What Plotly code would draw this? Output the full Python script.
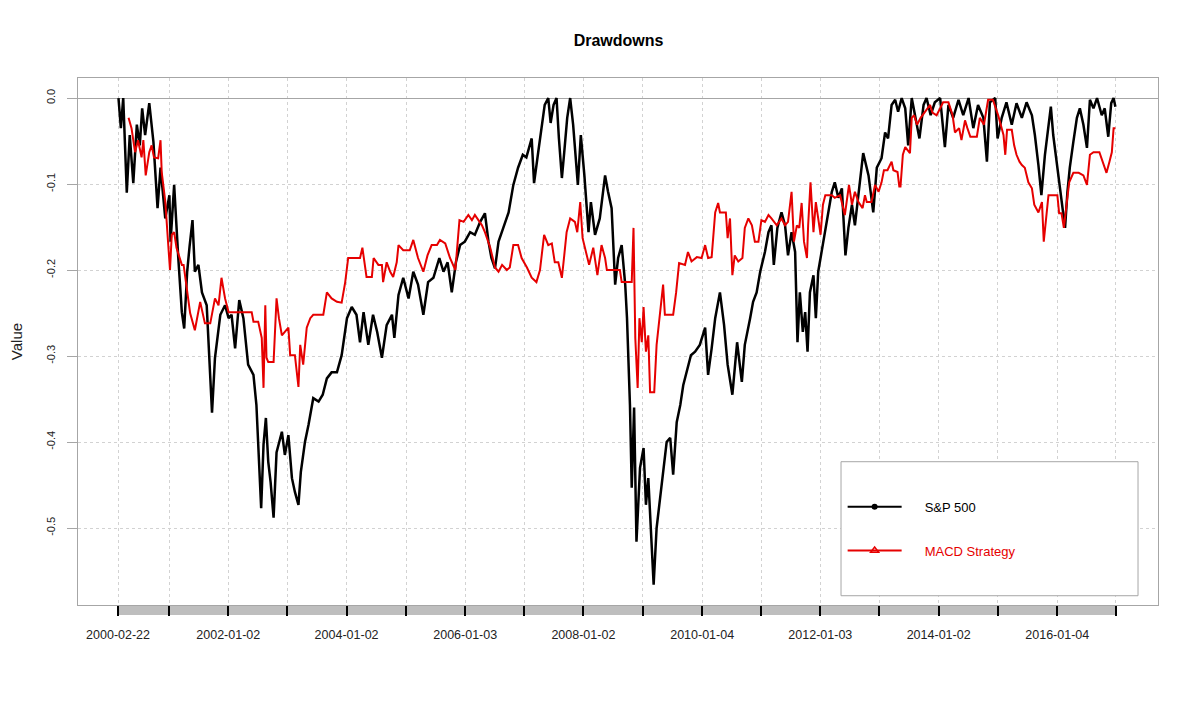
import pandas as pd
import plotly.graph_objects as go

# drawdown readings, time as decimal year
sp_years = [
    2000.15, 2000.19, 2000.23, 2000.29, 2000.34, 2000.40, 2000.46, 2000.51, 2000.55, 2000.60,
    2000.67, 2000.74, 2000.81, 2000.86, 2000.94, 2001.01, 2001.03, 2001.09, 2001.16, 2001.22,
    2001.26, 2001.31, 2001.35, 2001.40, 2001.44, 2001.50, 2001.56, 2001.64, 2001.73, 2001.78,
    2001.87, 2001.95, 2002.01, 2002.06, 2002.12, 2002.19, 2002.26, 2002.34, 2002.43, 2002.48,
    2002.56, 2002.60, 2002.64, 2002.68, 2002.72, 2002.77, 2002.82, 2002.91, 2002.96, 2003.02,
    2003.08, 2003.13, 2003.19, 2003.23, 2003.30, 2003.36, 2003.44, 2003.53, 2003.60, 2003.67,
    2003.75, 2003.84, 2003.92, 2004.01, 2004.09, 2004.17, 2004.23, 2004.29, 2004.37, 2004.45,
    2004.52, 2004.60, 2004.68, 2004.77, 2004.81, 2004.88, 2004.96, 2005.05, 2005.13, 2005.21,
    2005.30, 2005.38, 2005.47, 2005.57, 2005.64, 2005.71, 2005.78, 2005.85, 2005.92, 2006.00,
    2006.09, 2006.17, 2006.26, 2006.34, 2006.40, 2006.45, 2006.51, 2006.57, 2006.65, 2006.74,
    2006.82, 2006.90, 2006.98, 2007.04, 2007.13, 2007.17, 2007.24, 2007.30, 2007.35, 2007.41,
    2007.45, 2007.50, 2007.55, 2007.59, 2007.64, 2007.68, 2007.73, 2007.78, 2007.83, 2007.91,
    2007.96, 2008.02, 2008.09, 2008.13, 2008.20, 2008.28, 2008.37, 2008.42, 2008.48, 2008.54,
    2008.59, 2008.65, 2008.71, 2008.74, 2008.79, 2008.82, 2008.86, 2008.90, 2008.96, 2009.02,
    2009.06, 2009.10, 2009.16, 2009.19, 2009.24, 2009.30, 2009.35, 2009.41, 2009.47, 2009.52,
    2009.58, 2009.64, 2009.69, 2009.76, 2009.82, 2009.89, 2009.97, 2010.06, 2010.11, 2010.17,
    2010.23, 2010.31, 2010.38, 2010.44, 2010.48, 2010.52, 2010.57, 2010.60, 2010.68, 2010.73,
    2010.82, 2010.87, 2010.93, 2010.99, 2011.07, 2011.13, 2011.18, 2011.22, 2011.28, 2011.35,
    2011.41, 2011.46, 2011.52, 2011.58, 2011.62, 2011.66, 2011.71, 2011.75, 2011.79, 2011.83,
    2011.89, 2011.93, 2011.97, 2012.01, 2012.07, 2012.14, 2012.20, 2012.25, 2012.31, 2012.37,
    2012.43, 2012.48, 2012.54, 2012.59, 2012.65, 2012.73, 2012.82, 2012.90, 2012.96, 2013.04,
    2013.10, 2013.15, 2013.21, 2013.27, 2013.32, 2013.38, 2013.44, 2013.49, 2013.55, 2013.61,
    2013.68, 2013.75, 2013.80, 2013.87, 2013.94, 2014.03, 2014.11, 2014.17, 2014.25, 2014.34,
    2014.42, 2014.51, 2014.59, 2014.67, 2014.76, 2014.82, 2014.87, 2014.96, 2015.00, 2015.07,
    2015.15, 2015.24, 2015.32, 2015.41, 2015.49, 2015.58, 2015.63, 2015.69, 2015.74, 2015.80,
    2015.86, 2015.90, 2015.94, 2016.00, 2016.05, 2016.10, 2016.14, 2016.18, 2016.22, 2016.28,
    2016.34, 2016.39, 2016.45, 2016.51, 2016.56, 2016.62, 2016.68, 2016.76, 2016.81, 2016.87,
    2016.92, 2016.96, 2016.99,
]
sp_dd = [
    0.0, -0.035, 0.0, -0.11, -0.043, -0.099, -0.031, -0.055, -0.012, -0.043,
    -0.006, -0.051, -0.128, -0.081, -0.14, -0.113, -0.167, -0.101, -0.186, -0.249,
    -0.268, -0.202, -0.173, -0.142, -0.202, -0.194, -0.226, -0.241, -0.366, -0.302,
    -0.252, -0.241, -0.256, -0.252, -0.291, -0.235, -0.256, -0.31, -0.322, -0.357,
    -0.477, -0.403, -0.372, -0.423, -0.447, -0.488, -0.412, -0.388, -0.415, -0.392,
    -0.442, -0.458, -0.473, -0.435, -0.40, -0.38, -0.349, -0.353, -0.345, -0.326,
    -0.319, -0.319, -0.299, -0.256, -0.243, -0.252, -0.284, -0.249, -0.287, -0.252,
    -0.272, -0.302, -0.264, -0.252, -0.279, -0.229, -0.209, -0.233, -0.202, -0.217,
    -0.252, -0.214, -0.209, -0.186, -0.202, -0.191, -0.226, -0.191, -0.171, -0.167,
    -0.156, -0.159, -0.144, -0.134, -0.167, -0.186, -0.198, -0.167, -0.151, -0.133,
    -0.101, -0.081, -0.066, -0.069, -0.047, -0.099, -0.063, -0.031, -0.008, 0.0,
    -0.029, -0.008, 0.0, -0.047, -0.093, -0.063, -0.023, 0.0, -0.031, -0.101,
    -0.043, -0.09, -0.156, -0.121, -0.159, -0.14, -0.09, -0.109, -0.128, -0.217,
    -0.186, -0.171, -0.217, -0.256, -0.357, -0.453, -0.36, -0.516, -0.43, -0.407,
    -0.473, -0.442, -0.523, -0.566, -0.50, -0.465, -0.43, -0.40, -0.395, -0.438,
    -0.377, -0.357, -0.334, -0.314, -0.299, -0.295, -0.287, -0.267, -0.322, -0.291,
    -0.256, -0.226, -0.264, -0.31, -0.326, -0.345, -0.307, -0.284, -0.33, -0.287,
    -0.256, -0.237, -0.226, -0.202, -0.179, -0.156, -0.148, -0.194, -0.151, -0.133,
    -0.148, -0.183, -0.156, -0.179, -0.284, -0.226, -0.272, -0.249, -0.295, -0.226,
    -0.206, -0.256, -0.202, -0.186, -0.159, -0.133, -0.109, -0.098, -0.116, -0.105,
    -0.183, -0.151, -0.124, -0.148, -0.113, -0.064, -0.09, -0.133, -0.081, -0.07,
    -0.04, -0.047, -0.008, -0.002, -0.016, 0.0, -0.012, -0.055, 0.0, -0.023,
    -0.047, -0.008, 0.0, -0.02, -0.005, 0.0, -0.057, -0.008, -0.023, -0.002,
    -0.02, 0.0, -0.035, -0.008, -0.023, -0.074, -0.005, 0.0, -0.047, -0.023,
    -0.005, -0.031, -0.006, -0.023, -0.005, -0.02, -0.043, -0.078, -0.113, -0.066,
    -0.035, -0.01, -0.043, -0.074, -0.101, -0.128, -0.151, -0.109, -0.081, -0.051,
    -0.023, -0.012, -0.031, -0.058, -0.002, -0.012, 0.0, -0.02, -0.012, -0.045,
    -0.006, 0.0, -0.01,
]

macd_years = [
    2000.32, 2000.37, 2000.43, 2000.48, 2000.54, 2000.57, 2000.61, 2000.67, 2000.71, 2000.75,
    2000.82, 2000.86, 2000.88, 2000.94, 2001.02, 2001.05, 2001.09, 2001.13, 2001.22, 2001.25,
    2001.36, 2001.44, 2001.53, 2001.61, 2001.70, 2001.78, 2001.84, 2001.89, 2001.95, 2002.01,
    2002.23, 2002.40, 2002.43, 2002.51, 2002.57, 2002.60, 2002.63, 2002.65, 2002.68, 2002.77,
    2002.82, 2002.86, 2002.91, 2003.02, 2003.05, 2003.13, 2003.19, 2003.22, 2003.27, 2003.33,
    2003.39, 2003.44, 2003.61, 2003.67, 2003.75, 2003.84, 2003.92, 2003.98, 2004.03, 2004.09,
    2004.23, 2004.27, 2004.30, 2004.34, 2004.43, 2004.46, 2004.54, 2004.60, 2004.62, 2004.68,
    2004.74, 2004.79, 2004.85, 2004.88, 2004.96, 2005.07, 2005.13, 2005.21, 2005.30, 2005.37,
    2005.44, 2005.53, 2005.58, 2005.67, 2005.75, 2005.84, 2005.91, 2005.98, 2006.06, 2006.12,
    2006.17, 2006.23, 2006.29, 2006.34, 2006.43, 2006.51, 2006.57, 2006.63, 2006.71, 2006.76,
    2006.82, 2006.90, 2006.96, 2007.05, 2007.13, 2007.21, 2007.27, 2007.34, 2007.41, 2007.47,
    2007.52, 2007.58, 2007.64, 2007.68, 2007.72, 2007.78, 2007.86, 2007.90, 2007.95, 2007.99,
    2008.06, 2008.10, 2008.17, 2008.24, 2008.31, 2008.37, 2008.40, 2008.62, 2008.65, 2008.82,
    2008.85, 2008.88, 2008.92, 2008.95, 2008.99, 2009.02, 2009.06, 2009.10, 2009.13, 2009.20,
    2009.24, 2009.30, 2009.35, 2009.38, 2009.52, 2009.57, 2009.62, 2009.72, 2009.77, 2009.83,
    2009.92, 2010.00, 2010.06, 2010.11, 2010.17, 2010.23, 2010.28, 2010.31, 2010.41, 2010.44,
    2010.48, 2010.52, 2010.56, 2010.62, 2010.69, 2010.73, 2010.79, 2010.85, 2010.90, 2010.96,
    2011.01, 2011.07, 2011.13, 2011.18, 2011.27, 2011.35, 2011.41, 2011.46, 2011.52, 2011.56,
    2011.61, 2011.65, 2011.69, 2011.73, 2011.78, 2011.80, 2011.84, 2011.89, 2011.93, 2011.97,
    2012.01, 2012.05, 2012.09, 2012.20, 2012.25, 2012.34, 2012.42, 2012.49, 2012.54, 2012.59,
    2012.65, 2012.72, 2012.76, 2012.79, 2012.87, 2012.93, 2012.99, 2013.04, 2013.08, 2013.14,
    2013.21, 2013.24, 2013.31, 2013.34, 2013.36, 2013.40, 2013.44, 2013.52, 2013.55, 2013.59,
    2013.64, 2013.70, 2013.77, 2013.86, 2013.90, 2013.97, 2014.03, 2014.08, 2014.17, 2014.24,
    2014.28, 2014.35, 2014.39, 2014.45, 2014.49, 2014.54, 2014.65, 2014.70, 2014.77, 2014.84,
    2014.92, 2015.01, 2015.10, 2015.13, 2015.16, 2015.24, 2015.28, 2015.32, 2015.37, 2015.41,
    2015.46, 2015.52, 2015.58, 2015.62, 2015.69, 2015.75, 2015.78, 2015.82, 2015.86, 2016.01,
    2016.04, 2016.08, 2016.12, 2016.17, 2016.21, 2016.28, 2016.37, 2016.45, 2016.51, 2016.56,
    2016.62, 2016.72, 2016.78, 2016.84, 2016.89, 2016.93, 2016.96, 2016.99,
]
macd_dd = [
    -0.023, -0.035, -0.063, -0.049, -0.069, -0.049, -0.09, -0.063, -0.055, -0.069,
    -0.07, -0.049, -0.086, -0.12, -0.20, -0.159, -0.156, -0.174, -0.194, -0.194,
    -0.25, -0.27, -0.237, -0.262, -0.262, -0.233, -0.241, -0.209, -0.233, -0.249,
    -0.249, -0.249, -0.26, -0.26, -0.279, -0.337, -0.241, -0.302, -0.307, -0.307,
    -0.233, -0.256, -0.276, -0.267, -0.299, -0.299, -0.336, -0.287, -0.31, -0.267,
    -0.256, -0.252, -0.252, -0.226, -0.233, -0.237, -0.238, -0.214, -0.186, -0.186,
    -0.186, -0.174, -0.188, -0.208, -0.208, -0.186, -0.194, -0.194, -0.214, -0.191,
    -0.202, -0.208, -0.191, -0.171, -0.177, -0.177, -0.165, -0.186, -0.202, -0.183,
    -0.171, -0.171, -0.165, -0.169, -0.186, -0.20, -0.142, -0.144, -0.136, -0.142,
    -0.136, -0.142, -0.148, -0.156, -0.174, -0.197, -0.202, -0.194, -0.20, -0.197,
    -0.171, -0.171, -0.186, -0.197, -0.209, -0.214, -0.20, -0.159, -0.171, -0.169,
    -0.191, -0.191, -0.209, -0.183, -0.156, -0.14, -0.144, -0.156, -0.121, -0.163,
    -0.183, -0.194, -0.174, -0.206, -0.171, -0.186, -0.20, -0.20, -0.214, -0.214,
    -0.151, -0.279, -0.337, -0.256, -0.284, -0.243, -0.295, -0.276, -0.342, -0.342,
    -0.287, -0.252, -0.217, -0.252, -0.252, -0.226, -0.192, -0.194, -0.179, -0.19,
    -0.185, -0.186, -0.171, -0.186, -0.185, -0.133, -0.122, -0.133, -0.133, -0.163,
    -0.14, -0.206, -0.183, -0.19, -0.186, -0.151, -0.14, -0.148, -0.167, -0.167,
    -0.142, -0.144, -0.136, -0.14, -0.148, -0.14, -0.148, -0.144, -0.109, -0.167,
    -0.148, -0.151, -0.122, -0.167, -0.186, -0.148, -0.098, -0.156, -0.121, -0.14,
    -0.159, -0.124, -0.113, -0.113, -0.116, -0.113, -0.136, -0.101, -0.124, -0.109,
    -0.121, -0.128, -0.113, -0.121, -0.121, -0.101, -0.109, -0.098, -0.084, -0.084,
    -0.074, -0.084, -0.086, -0.103, -0.103, -0.066, -0.057, -0.064, -0.023, -0.02,
    -0.031, -0.023, -0.016, -0.008, -0.017, -0.02, -0.012, -0.005, -0.005, -0.02,
    -0.04, -0.035, -0.049, -0.026, -0.035, -0.045, -0.045, -0.023, -0.031, -0.002,
    -0.002, -0.02, -0.043, -0.066, -0.037, -0.037, -0.055, -0.066, -0.074, -0.078,
    -0.081, -0.098, -0.105, -0.124, -0.133, -0.121, -0.167, -0.14, -0.113, -0.113,
    -0.134, -0.134, -0.151, -0.121, -0.098, -0.087, -0.087, -0.09, -0.101, -0.066,
    -0.063, -0.063, -0.074, -0.087, -0.074, -0.063, -0.035, -0.035,
]

tick_dates = [
    "2000-02-22", "2001-01-02", "2002-01-02", "2003-01-02", "2004-01-02", "2005-01-03",
    "2006-01-03", "2007-01-03", "2008-01-02", "2009-01-02", "2010-01-04", "2011-01-03",
    "2012-01-03", "2013-01-02", "2014-01-02", "2015-01-02", "2016-01-04", "2016-12-30",
]
tick_labels = [d if i % 2 == 0 and i < 17 else "" for i, d in enumerate(tick_dates)]
y_ticks = [0.0, -0.1, -0.2, -0.3, -0.4, -0.5]


def to_date(years):
    base = pd.Timestamp("2000-01-01")
    return [base + pd.Timedelta(days=(t - 2000) * 365.2425) for t in years]


GRAY = "#a6a6a6"
RED = "#e60000"
PAD = "\u00a0" * 5  # push legend text right like the R legend

fig = go.Figure()
fig.add_trace(go.Scatter(x=to_date(sp_years), y=sp_dd, mode="lines",
                         line=dict(color="black", width=2.5), showlegend=False))
fig.add_trace(go.Scatter(x=to_date(macd_years), y=macd_dd, mode="lines",
                         line=dict(color=RED, width=2), showlegend=False))

# legend entries
fig.add_trace(go.Scatter(x=[None], y=[None], mode="lines+markers", name=PAD + "S&P 500",
                         line=dict(color="black", width=2),
                         marker=dict(symbol="circle", size=6, color="black"),
                         legendgroup="a"))
fig.add_trace(go.Scatter(x=[None], y=[None], mode="lines+markers",
                         name=PAD + "<span style='color:#e60000'>MACD Strategy</span>",
                         line=dict(color=RED, width=2),
                         marker=dict(symbol="triangle-up-open", size=7, color=RED,
                                     line=dict(width=1.5, color=RED)),
                         legendgroup="b"))

x_range = to_date([1999.466, 2017.71])

fig.add_shape(type="rect", xref="x", yref="paper",
              x0=tick_dates[0], x1=tick_dates[-1], y0=-0.019, y1=0,
              fillcolor="#bebebe", line=dict(width=0), layer="below")
fig.add_shape(type="rect", xref="paper", yref="paper",
              x0=0.7065, x1=0.9815, y0=0.0176, y1=0.2719,
              fillcolor="white", line=dict(color=GRAY, width=1), layer="above")

# page body adds an 8px offset, margins compensate
fig.update_layout(
    width=1200, height=704,
    paper_bgcolor="white", plot_bgcolor="white",
    font=dict(family="Liberation Sans, Arial, sans-serif", color="#222222"),
    margin=dict(l=70, r=50, t=70, b=107),
    title=dict(text="<b>Drawdowns</b>", x=0.5088, xanchor="center", y=0.9545,
               yanchor="middle", font=dict(size=16, color="black")),
    legend=dict(x=0.708, y=0.215, xanchor="left", yanchor="top",
                bgcolor="rgba(0,0,0,0)", borderwidth=0,
                font=dict(size=13, color="black"), itemwidth=54,
                tracegroupgap=24),
)
fig.update_xaxes(
    type="date", range=x_range, automargin=False,
    tickmode="array", tickvals=tick_dates, ticktext=tick_labels,
    ticks="outside", ticklen=10, tickwidth=2, tickcolor="black",
    ticklabelstandoff=8,
    tickfont=dict(size=12.5, color="#222222"),
    showgrid=True, gridcolor="#d2d2d2", griddash="dot", gridwidth=1,
    showline=True, linecolor=GRAY, linewidth=1, mirror=True, zeroline=False,
)
fig.update_yaxes(
    range=[-0.5895, 0.0233], automargin=False,
    tickmode="array", tickvals=y_ticks, ticktext=[f"{v:.1f}" for v in y_ticks],
    ticks="outside", ticklen=10, tickcolor=GRAY, tickangle=-90,
    ticklabelstandoff=8,
    tickfont=dict(size=11, color="#222222"),
    showgrid=True, gridcolor="#d2d2d2", griddash="dot", gridwidth=1,
    zeroline=True, zerolinecolor=GRAY, zerolinewidth=1,
    showline=True, linecolor=GRAY, linewidth=1, mirror=True,
    title=dict(text="Value", font=dict(size=15, color="#222222"), standoff=25),
)

fig.write_html("out.html")
